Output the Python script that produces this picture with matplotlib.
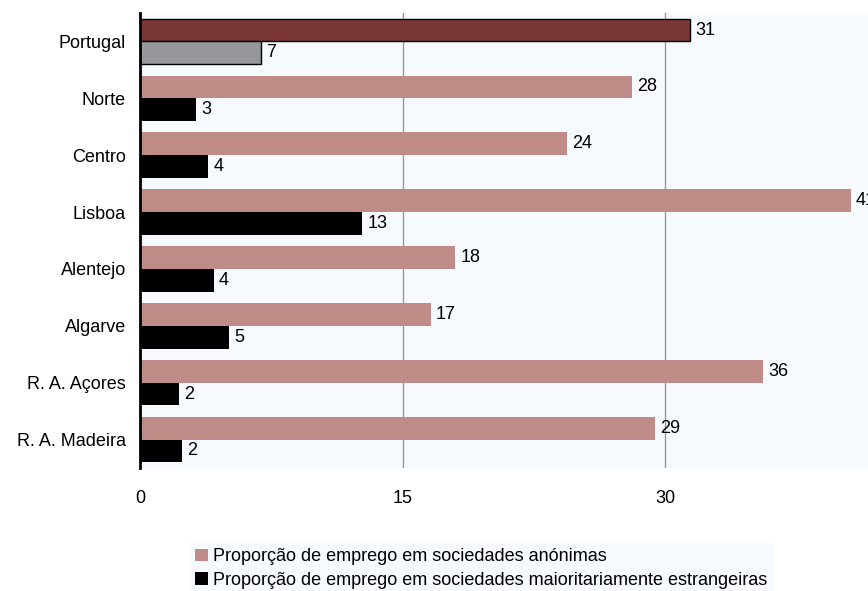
import matplotlib.pyplot as plt
import numpy as np
from matplotlib.patches import Patch

plt.rcParams["font.family"] = ["Liberation Sans", "DejaVu Sans"]

regioes = ["Portugal", "Norte", "Centro", "Lisboa", "Alentejo", "Algarve",
           "R. A. Açores", "R. A. Madeira"]
anonimas = [31.4, 28.1, 24.4, 40.6, 18.0, 16.6, 35.6, 29.4]
estrangeiras = [6.9, 3.2, 3.9, 12.7, 4.2, 5.1, 2.2, 2.4]
xticks = [0, 15, 30]

COR_ANON = "#BF8B86"
COR_ESTR = "#000000"
COR_PT_ANON = "#7B3735"
COR_PT_ESTR = "#96979A"
FS = 13

fig = plt.figure(figsize=(8.68, 5.91), dpi=100)
ax = fig.add_axes([140 / 868, 123 / 591, 728 / 868, 455 / 591])
ax.set_facecolor("#F6F9FE")

y = np.arange(len(regioes))
cores_anon = [COR_PT_ANON] + [COR_ANON] * (len(regioes) - 1)
cores_estr = [COR_PT_ESTR] + [COR_ESTR] * (len(regioes) - 1)
bordas = [1.0] + [0] * (len(regioes) - 1)

b1 = ax.barh(y - 0.2, anonimas, height=0.4, color=cores_anon,
             edgecolor="black", linewidth=bordas, zorder=3)
b2 = ax.barh(y + 0.2, estrangeiras, height=0.4, color=cores_estr,
             edgecolor="black", linewidth=bordas, zorder=3)

for barras, vals in [(b1, anonimas), (b2, estrangeiras)]:
    ax.bar_label(barras, labels=[f"{v:.0f}" for v in vals], padding=4,
                 fontsize=FS, clip_on=False)

ax.set_ylim(len(regioes) - 0.5, -0.5)
ax.set_xlim(0, 41.6)
ax.set_yticks(y)
ax.set_yticklabels(regioes, fontsize=FS)
ax.set_xticks(xticks)
ax.set_xticklabels([str(t) for t in xticks], fontsize=FS)
ax.tick_params(axis="y", length=0, pad=10)
ax.tick_params(axis="x", length=0, pad=16)

ax.grid(axis="x", color="#999999", linewidth=1, zorder=0)
for s in ["top", "right", "bottom"]:
    ax.spines[s].set_visible(False)
ax.spines["left"].set_linewidth(2)
ax.spines["left"].set_zorder(4)

handles = [Patch(facecolor=COR_ANON), Patch(facecolor=COR_ESTR)]
fig.legend(handles,
           ["Proporção de emprego em sociedades anónimas",
            "Proporção de emprego em sociedades maioritariamente estrangeiras"],
           loc="upper left", bbox_to_anchor=(190 / 868, 1 - 543 / 591),
           frameon=True, facecolor="#F6F9FE", edgecolor="none", fancybox=False,
           framealpha=1, fontsize=FS, handlelength=0.7, handleheight=0.7,
           handletextpad=0.3, labelspacing=0.35, borderpad=0.3, borderaxespad=0)

fig.savefig("out.png", dpi=100)
